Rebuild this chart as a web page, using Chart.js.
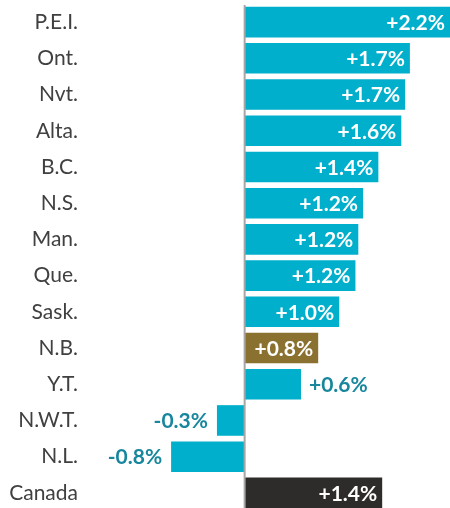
<!DOCTYPE html>
<html>
<head>
<meta charset="utf-8">
<script src="https://cdn.jsdelivr.net/npm/chart.js@4.4.0/dist/chart.umd.min.js"></script>
<style>
  html, body { margin: 0; padding: 0; background: #fff; overflow: hidden; }
  canvas { display: block; }
</style>
</head>
<body>
<canvas id="myChart" width="450" height="512"></canvas>
<script>
// categories and values (percent change)
const regioes = ['P.E.I.', 'Ont.', 'Nvt.', 'Alta.', 'B.C.', 'N.S.', 'Man.', 'Que.', 'Sask.', 'N.B.', 'Y.T.', 'N.W.T.', 'N.L.', 'Canada'];
const variacao = [2.2, 1.73, 1.68, 1.64, 1.40, 1.24, 1.19, 1.16, 0.99, 0.77, 0.59, -0.29, -0.77, 1.44];

const AZUL = '#00AFCB';
const OURO = '#8B7130';
const ESCURO = '#2E2C2A';
const TEAL = '#18879D';
const FONTE = 'Lato, "Open Sans", sans-serif';

function corBarra(nome) {
    if (nome == 'N.B.') return OURO;
    if (nome == 'Canada') return ESCURO;
    return AZUL;
}

function formata(v) {
    return (v > 0 ? '+' : '') + v.toFixed(1) + '%';
}

// draws the value labels and the zero line
const rotulos = {
    id: 'rotulos',
    afterDatasetsDraw(chart) {
        const ctx = chart.ctx;
        const area = chart.chartArea;
        const meta = chart.getDatasetMeta(0);
        const x0 = chart.scales.x.getPixelForValue(0);

        ctx.save();
        ctx.font = 'bold 21px ' + FONTE;
        ctx.textBaseline = 'middle';
        meta.data.forEach(function (bar, i) {
            const v = variacao[i];
            const txt = formata(v);
            const w = ctx.measureText(txt).width;
            const fim = Math.min(bar.x, area.right);
            const largura = Math.abs(fim - x0);
            if (v >= 0) {
                if (largura >= w + 12) {
                    ctx.fillStyle = '#fff';
                    ctx.textAlign = 'right';
                    ctx.fillText(txt, fim - 5, bar.y + 1);
                } else {
                    ctx.fillStyle = TEAL;
                    ctx.textAlign = 'left';
                    ctx.fillText(txt, fim + 8, bar.y + 1);
                }
            } else {
                ctx.fillStyle = TEAL;
                ctx.textAlign = 'right';
                ctx.fillText(txt, fim - 9, bar.y + 1);
            }
        });

        ctx.strokeStyle = '#A6A6A6';
        ctx.lineWidth = 2;
        ctx.beginPath();
        ctx.moveTo(x0, area.top + 1);
        ctx.lineTo(x0, area.bottom);
        ctx.stroke();
        ctx.restore();
    }
};

const data = {
    labels: regioes,
    datasets: [{
        data: variacao,
        backgroundColor: regioes.map(corBarra),
        borderWidth: 0,
        barPercentage: 0.845,
        categoryPercentage: 1.0
    }]
};

const config = {
    type: 'bar',
    data: data,
    options: {
        indexAxis: 'y',
        responsive: false,
        animation: false,
        layout: { padding: { top: 4, bottom: 1, left: 0, right: 0 } },
        plugins: {
            legend: { display: false },
            tooltip: { enabled: false }
        },
        scales: {
            x: {
                display: false,
                min: -1.64,
                max: 2.15
            },
            y: {
                grid: { display: false, drawTicks: false },
                border: { display: false },
                ticks: {
                    color: '#404040',
                    padding: 10,
                    font: { family: FONTE, size: 21 }
                },
                afterFit(scale) {
                    scale.width = 88;
                    scale.paddingTop = 0;
                    scale.paddingBottom = 0;
                }
            }
        }
    },
    plugins: [rotulos]
};

const myChart = new Chart(document.getElementById('myChart'), config);
</script>
</body>
</html>
